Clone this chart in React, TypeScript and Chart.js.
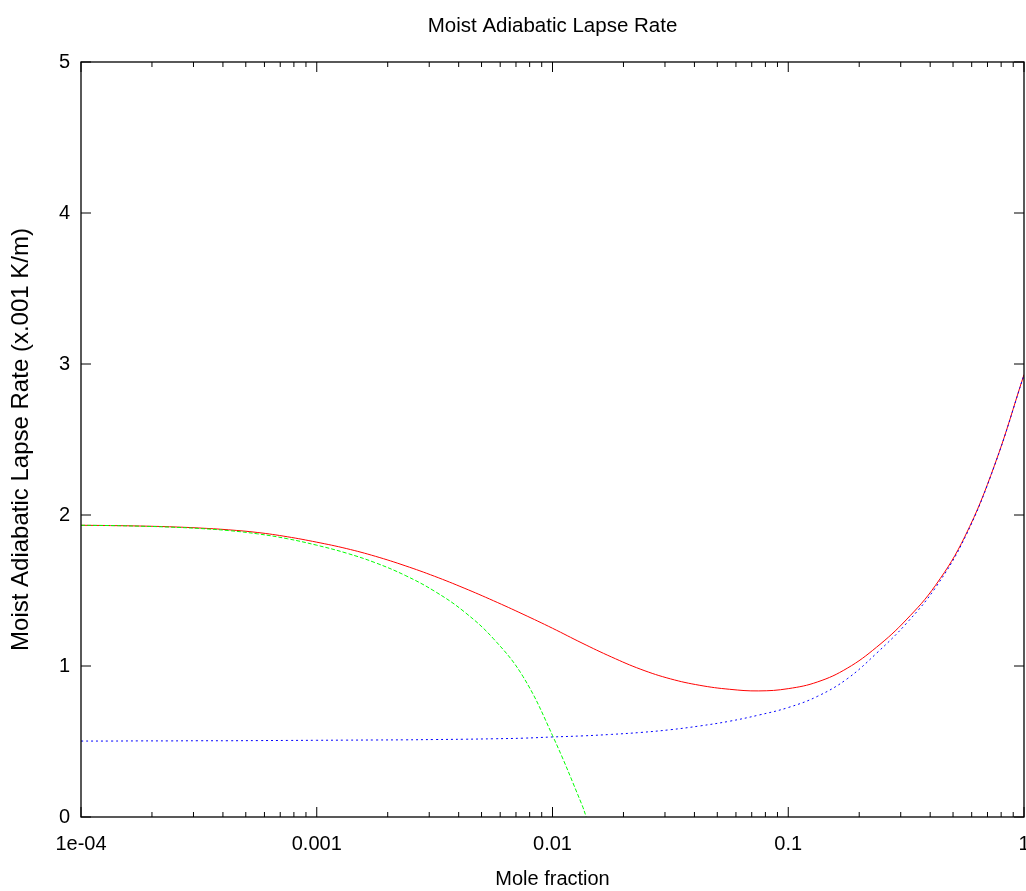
import React, { useEffect, useRef } from "react";
import { Chart, registerables } from "chart.js";

Chart.register(...registerables);

const titleText = "Moist Adiabatic Lapse Rate";
const xAxisTitle = "Mole fraction";
const yAxisTitle = "Moist Adiabatic Lapse Rate (x.001 K/m)";

const xTickValues = [1e-4, 1e-3, 1e-2, 1e-1, 1];
const xTickLabels = ["1e-04", "0.001", "0.01", "0.1", "1"];
const xMinorMultipliers = [2, 3, 4, 5, 6, 7, 8, 9];
const yTickValues = [0, 1, 2, 3, 4, 5];

// Sample mole fractions (eighth-decade steps)
const moleFraction = [
  0.0001, 0.0001334, 0.0001778, 0.0002371, 0.0003162, 0.0004217, 0.0005623, 0.0007499,
  0.001, 0.001334, 0.001778, 0.002371, 0.003162, 0.004217, 0.005623, 0.007499,
  0.01, 0.01334, 0.01778, 0.02371, 0.03162, 0.04217, 0.05623, 0.07499,
  0.1, 0.1334, 0.1778, 0.2371, 0.3162, 0.4217, 0.5623, 0.7499, 1,
];
// Red solid curve
const totalRate = [
  1.932, 1.93, 1.927, 1.922, 1.914, 1.902, 1.884, 1.856,
  1.82, 1.778, 1.726, 1.664, 1.594, 1.516, 1.432, 1.343,
  1.25, 1.152, 1.06, 0.978, 0.915, 0.872, 0.846, 0.835,
  0.85, 0.895, 0.985, 1.125, 1.305, 1.535, 1.86, 2.33, 2.93,
];
// Blue dotted curve
const blueRate = [
  0.503, 0.503, 0.504, 0.504, 0.505, 0.505, 0.506, 0.507,
  0.508, 0.509, 0.51, 0.511, 0.513, 0.515, 0.518, 0.522,
  0.53, 0.537, 0.547, 0.56, 0.578, 0.603, 0.634, 0.675,
  0.725, 0.8, 0.915, 1.085, 1.28, 1.52, 1.852, 2.327, 2.928,
];
// Green dashed curve (ends where it reaches 0)
const greenFraction = [
  0.0001, 0.0001334, 0.0001778, 0.0002371, 0.0003162, 0.0004217, 0.0005623, 0.0007499,
  0.001, 0.001334, 0.001778, 0.002371, 0.003162, 0.004217, 0.005623, 0.007499,
  0.01, 0.01334, 0.0139,
];
const greenRate = [
  1.932, 1.93, 1.926, 1.92, 1.911, 1.897, 1.875, 1.843,
  1.8, 1.748, 1.683, 1.6, 1.495, 1.36, 1.18, 0.93,
  0.54, 0.08, 0,
];

const FONT = "'Liberation Sans', Arial, Helvetica, sans-serif";

const framePlugin = {
  id: "gnuframe",
  afterDatasetsDraw(chart: any) {
    const { ctx, chartArea, scales } = chart;
    const { left, right, top, bottom } = chartArea;
    const x = scales.x;
    const y = scales.y;
    ctx.save();
    ctx.strokeStyle = "#000";
    ctx.lineWidth = 1.3;
    ctx.strokeRect(left, top, right - left, bottom - top);
    ctx.lineWidth = 1;
    ctx.beginPath();
    for (const d of xTickValues) {
      const px = x.getPixelForValue(d);
      ctx.moveTo(px, bottom);
      ctx.lineTo(px, bottom - 10);
      ctx.moveTo(px, top);
      ctx.lineTo(px, top + 10);
      for (const m of xMinorMultipliers) {
        const v = d * m;
        if (v > 1) break;
        const mp = x.getPixelForValue(v);
        ctx.moveTo(mp, bottom);
        ctx.lineTo(mp, bottom - 5);
        ctx.moveTo(mp, top);
        ctx.lineTo(mp, top + 5);
      }
    }
    for (const v of yTickValues) {
      const py = y.getPixelForValue(v);
      ctx.moveTo(left, py);
      ctx.lineTo(left + 10, py);
      ctx.moveTo(right, py);
      ctx.lineTo(right - 10, py);
    }
    ctx.stroke();
    ctx.restore();
  },
};

export default function App() {
  const ref = useRef<HTMLCanvasElement | null>(null);

  useEffect(() => {
    if (!ref.current) return;
    const lineCommon = {
      borderWidth: 1,
      pointRadius: 0,
      tension: 0.4,
      fill: false,
    };
    const chart = new Chart(ref.current, {
      type: "line",
      data: {
        datasets: [
          {
            ...lineCommon,
            label: "blue",
            data: moleFraction.map((v, i) => ({ x: v, y: blueRate[i] })),
            borderColor: "#0000ff",
            borderDash: [2, 3],
          },
          {
            ...lineCommon,
            label: "green",
            data: greenFraction.map((v, i) => ({ x: v, y: greenRate[i] })),
            borderColor: "#00ff00",
            borderDash: [4, 2],
          },
          {
            ...lineCommon,
            label: "total",
            data: moleFraction.map((v, i) => ({ x: v, y: totalRate[i] })),
            borderColor: "#ff0000",
          },
        ],
      },
      options: {
        animation: false,
        responsive: false,
        devicePixelRatio: 1,
        layout: { padding: { left: 0, right: 2, top: 0, bottom: 0 } },
        plugins: {
          legend: { display: false },
          tooltip: { enabled: false },
          title: {
            display: true,
            fullSize: false,
            text: titleText,
            color: "#000",
            font: { family: FONT, size: 20.5, weight: "normal" },
            padding: { top: 14, bottom: 23.4 },
          },
        },
        scales: {
          x: {
            type: "logarithmic",
            min: 1e-4,
            max: 1,
            grid: { display: false, drawTicks: false },
            border: { display: false },
            afterBuildTicks: (scale: any) => {
              scale.ticks = xTickValues.map((v) => ({ value: v }));
            },
            afterFit: (scale: any) => {
              scale.height = 74;
              scale.paddingLeft = 0;
              scale.paddingRight = 0;
            },
            ticks: {
              autoSkip: false,
              maxRotation: 0,
              minRotation: 0,
              padding: 15,
              color: "#000",
              font: { family: FONT, size: 20 },
              callback: (value: any) => {
                const idx = xTickValues.findIndex((v) => Math.abs(v - Number(value)) < v * 1e-6);
                return idx >= 0 ? xTickLabels[idx] : "";
              },
            },
            title: {
              display: true,
              text: xAxisTitle,
              color: "#000",
              font: { family: FONT, size: 20 },
              padding: { top: 0, bottom: 0 },
            },
          },
          y: {
            type: "linear",
            min: 0,
            max: 5,
            grid: { display: false, drawTicks: false },
            border: { display: false },
            afterBuildTicks: (scale: any) => {
              scale.ticks = yTickValues.map((v) => ({ value: v }));
            },
            afterFit: (scale: any) => {
              scale.width = 81;
              scale.paddingTop = 0;
              scale.paddingBottom = 0;
            },
            ticks: {
              padding: 11,
              color: "#000",
              font: { family: FONT, size: 20 },
              callback: (value: any) => String(value),
            },
            title: {
              display: true,
              text: yAxisTitle,
              color: "#000",
              font: { family: FONT, size: 24 },
              padding: { top: 7, bottom: 7 },
            },
          },
        },
      },
      plugins: [framePlugin],
    } as any);
    return () => chart.destroy();
  }, []);

  return (
    <div style={{ position: "fixed", left: 0, top: 0, width: 1026, height: 891, overflow: "hidden", background: "#fff" }}>
      <canvas ref={ref} width={1026} height={891} style={{ display: "block", width: 1026, height: 891 }} />
    </div>
  );
}
